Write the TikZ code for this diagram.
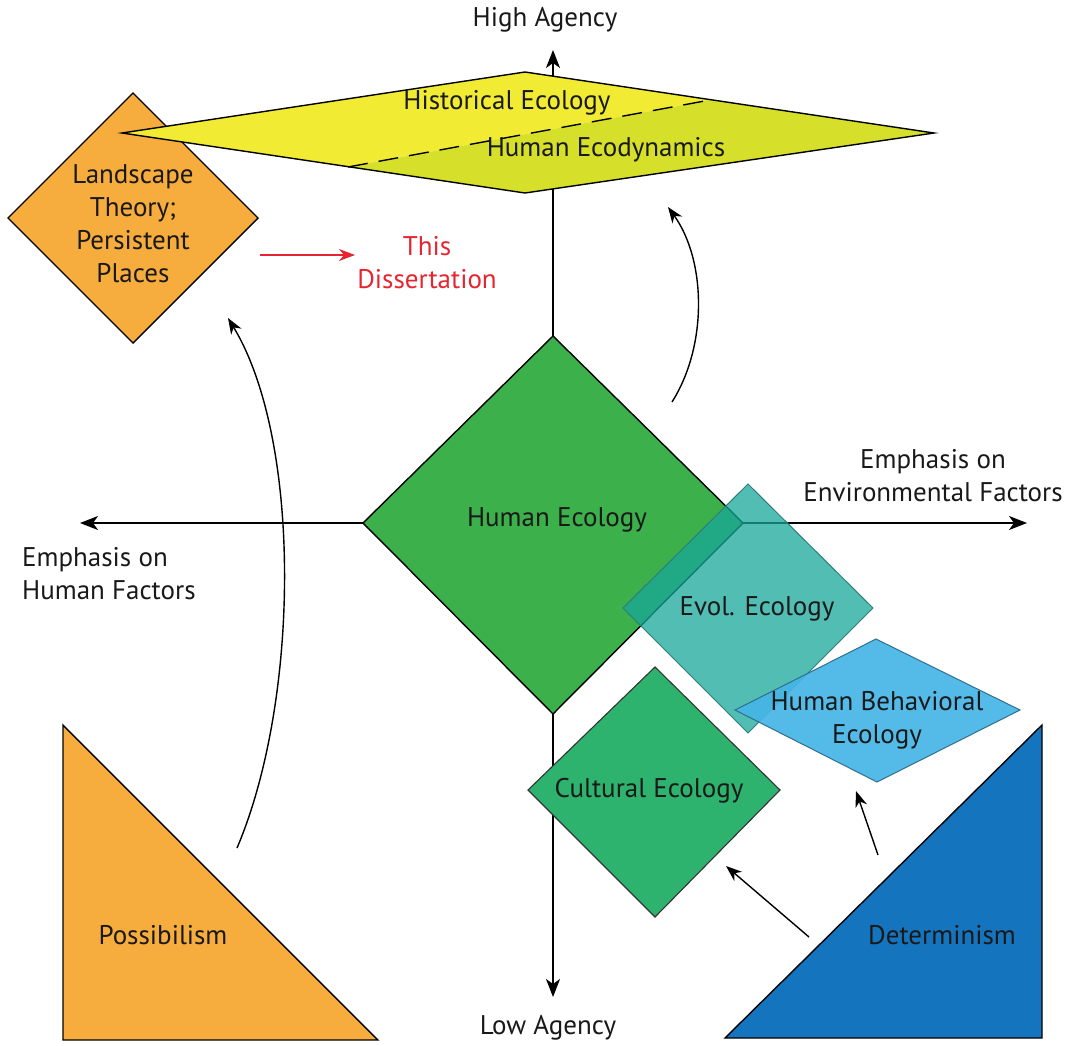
\documentclass[tikz,border=0pt]{standalone}
\usepackage{fontspec}
\setmainfont{PT Sans}
\usetikzlibrary{arrows.meta}
\definecolor{yelA}{HTML}{F2EB34}
\definecolor{yelB}{HTML}{D6E02B}
\definecolor{orng}{HTML}{F7AC3E}
\definecolor{hgreen}{HTML}{3CB04B}
\definecolor{evol}{HTML}{18A799}
\definecolor{evolline}{HTML}{2F7F78}
\definecolor{hbe}{HTML}{45B5E6}
\definecolor{hbeline}{HTML}{2F6F8F}
\definecolor{cult}{HTML}{2EB36E}
\definecolor{determ}{HTML}{1574BE}
\definecolor{redtxt}{HTML}{E52630}
\begin{document}
\begin{tikzpicture}[x=1pt,y=-1pt,
  lbl/.style={font=\fontsize{27}{33}\selectfont, align=center, inner sep=0pt, text=black!90},
  outline/.style={draw=black, line width=1.4pt, line join=miter},
  axisarr/.style={-{Stealth[length=18pt,width=14pt,inset=5pt]}, line width=1.8pt},
  curvarr/.style={-{Stealth[length=16pt,width=12pt,inset=5pt]}, line width=1.4pt},
]
\useasboundingbox (0,0) rectangle (1067,1045);
% axes
\coordinate (ctr) at (553,523);
\coordinate (vtop) at (553,50);
\coordinate (vbot) at (553,997);
\coordinate (hl) at (80,523);
\coordinate (hr) at (1027,523);
\draw[axisarr] (ctr) -- (vtop);
\draw[axisarr] (ctr) -- (vbot);
\draw[axisarr] (ctr) -- (hl);
\draw[axisarr] (ctr) -- (hr);

% landscape diamond
\draw[outline, fill=orng] (133,93) -- (258,218) -- (133,343) -- (8,218) -- cycle;

% yellow rhombus
\coordinate (yl) at (122,133);
\coordinate (yt) at (525,72);
\coordinate (yr) at (934,133);
\coordinate (yb) at (525,193);
\coordinate (d1) at (348,167);
\coordinate (d2) at (710,100);
\fill[yelA] (yl) -- (yt) -- (d2) -- (d1) -- cycle;
\fill[yelB] (d1) -- (d2) -- (yr) -- (yb) -- cycle;
\draw[outline] (yl) -- (yt) -- (yr) -- (yb) -- cycle;
\draw[line width=1.4pt, dash pattern=on 20pt off 11pt] (d1) -- (d2);

% human ecology diamond
\draw[outline, fill=hgreen] (553,336) -- (743,523) -- (553,714) -- (363,523) -- cycle;

% evol ecology
\draw[draw=evolline, line width=1pt, fill=evol, fill opacity=0.75] (748,484) -- (873,608) -- (748,733) -- (623,608) -- cycle;

% human behavioral ecology
\draw[draw=hbeline, line width=1pt, fill=hbe, fill opacity=0.92] (735,710) -- (876,639) -- (1020,710) -- (877,782) -- cycle;

% cultural ecology
\draw[draw=black!80, line width=1.1pt, fill=cult] (655,667) -- (780,790) -- (655,917) -- (528,790) -- cycle;

% triangles
\draw[outline, fill=orng] (63,725) -- (378,1040) -- (63,1040) -- cycle;
\draw[outline, fill=determ] (1042,725) -- (1042,1038) -- (725,1038) -- cycle;

% labels
\node[lbl] (high) at (545,20) {High Agency};
\node[lbl] (low) at (548,1028) {Low Agency};
\node[lbl, anchor=west, align=left] (hum) at (22,574) {Emphasis on\\Human Factors};
\node[lbl] (env) at (933,476) {Emphasis on\\Environmental Factors};
\node[lbl] (histeco) at (507,103) {Historical Ecology};
\node[lbl] (ecodyn) at (606,150) {Human Ecodynamics};
\node[lbl] (land) at (133,224) {Landscape\\Theory;\\Persistent\\Places};
\node[lbl, text=redtxt] (diss) at (427,263) {This\\Dissertation};
\node[lbl] (humeco) at (557,520) {Human Ecology};
\node[lbl] (evolt) at (757,609) {Evol. Ecology};
\node[lbl] (hbet) at (877,720) {Human Behavioral\\Ecology};
\node[lbl] (cultt) at (649,791) {Cultural Ecology};
\node[lbl] (poss) at (163,935) {Possibilism};
\node[lbl] (det) at (942,935) {Determinism};

% connectors
\coordinate (ra) at (260,255);
\coordinate (rb) at (355,255);
\draw[-{Stealth[length=16pt,width=12pt,inset=5pt]}, line width=1.4pt, redtxt] (ra) -- (rb);

\coordinate (la) at (237,848);
\coordinate (lb) at (228,318);
\draw[curvarr] (la) .. controls (300,700) and (302,440) .. (lb);

\coordinate (rca) at (672,402);
\coordinate (rcb) at (668,207);
\draw[curvarr] (rca) .. controls (708,345) and (706,260) .. (rcb);

\coordinate (da) at (809,937);
\coordinate (db) at (726,866);
\draw[curvarr] (da) -- (db);
\coordinate (dc) at (878,855);
\coordinate (dd) at (856,791);
\draw[curvarr] (dc) -- (dd);
\end{tikzpicture}
\end{document}
